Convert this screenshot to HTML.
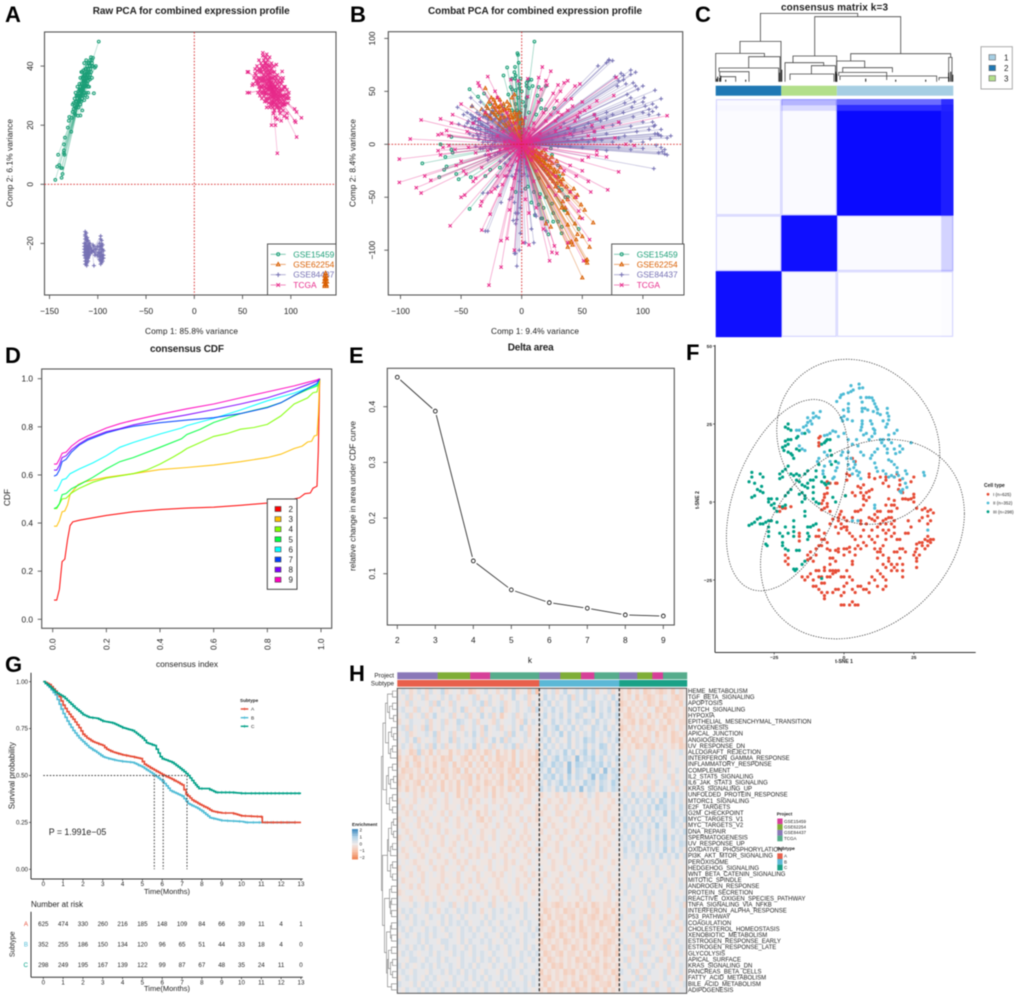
<!DOCTYPE html>
<html lang="en">
<head>
<meta charset="utf-8">
<title>Consensus clustering figure</title>
<style>
html,body{margin:0;padding:0;background:#fff;width:1020px;height:998px;overflow:hidden}
svg{display:block;filter:blur(.45px)}
text{font-family:"Liberation Sans",sans-serif;fill:#222}
.letter{font-size:22px;font-weight:bold;fill:#000}
.title{font-size:10px;font-weight:bold}
</style>
</head>
<body>
<svg id="fig" xmlns="http://www.w3.org/2000/svg" width="1020" height="998" viewBox="0 0 1020 998">
<rect width="1020" height="998" fill="#fff"/>
<text class="letter" x="5" y="22">A</text>
<text class="letter" x="350" y="22">B</text>
<text class="letter" x="695" y="22">C</text>
<text class="letter" x="5" y="363">D</text>
<text class="letter" x="349" y="363">E</text>
<text class="letter" x="686" y="360">F</text>
<text class="letter" x="5" y="672">G</text>
<text class="letter" x="349" y="681">H</text>

<text class="title" x="92.7" y="14" textLength="197">Raw PCA for combined expression profile</text>
<text class="title" x="428" y="14" textLength="214">Combat PCA for combined expression profile</text>
<text class="title" x="781" y="10.5" textLength="107">consensus matrix k=3</text>
<text class="title" x="150" y="352" textLength="74">consensus CDF</text>
<text class="title" x="507.7" y="350.5" textLength="46">Delta area</text>

<text x="145" y="334" font-size="8.3" textLength="93">Comp 1: 85.8% variance</text>
<text transform="translate(12.3,207) rotate(-90)" font-size="8.3" textLength="88">Comp 2: 6.1% variance</text>
<text x="491" y="334" font-size="8.3" textLength="88">Comp 1: 9.4% variance</text>
<text transform="translate(355.7,207) rotate(-90)" font-size="8.3" textLength="88">Comp 2: 8.4% variance</text>
<text x="156" y="667" font-size="8.3" textLength="62">consensus index</text>
<text transform="translate(10,506) rotate(-90)" font-size="8.3">CDF</text>
<text x="530" y="663" font-size="8.3" text-anchor="middle">k</text>
<text transform="translate(355.7,571) rotate(-90)" font-size="8.3" textLength="150">relative change in area under CDF curve</text>

<text x="844" y="663" font-size="5" font-weight="bold" text-anchor="middle">t-SNE 1</text>
<text transform="translate(699,500) rotate(-90)" font-size="5" font-weight="bold" text-anchor="middle">t-SNE 2</text>

<text transform="translate(14.3,775.7) rotate(-90)" font-size="8" text-anchor="middle">Survival probability</text>
<text x="167" y="894" font-size="7.5" text-anchor="middle">Time(Months)</text>
<text x="48.7" y="835" font-size="8.8">P = 1.991e−05</text>
<text x="31" y="907" font-size="8">Number at risk</text>
<text transform="translate(14.3,944.3) rotate(-90)" font-size="7" text-anchor="middle">Subtype</text>
<text x="167" y="991" font-size="7.5" text-anchor="middle">Time(Months)</text>

<text x="394" y="677.6" font-size="6.3" text-anchor="end">Project</text>
<text x="394" y="685.4" font-size="6.3" text-anchor="end">Subtype</text>
<text x="352" y="826" font-size="4.6" font-weight="bold">Enrichment</text>
<text x="776.7" y="815.5" font-size="4.6" font-weight="bold">Project</text>
<text x="776.7" y="850" font-size="4.6" font-weight="bold">Subtype</text>
<text x="984" y="487" font-size="5" font-weight="bold">Cell type</text>
<text x="240" y="702" font-size="4.6" font-weight="bold">Subtype</text>
</svg>

<script>
// ---------- PANEL A data (PC1, PC2 pairs) ----------
const pcaASeriesNames=["GSE15459","GSE62254","GSE84437","TCGA"];
const pcaAGse15459=[-144,1.5,-142,6,-141,10,-140,6.5,-138,5.5,-137,5.5,-137.5,2.2,-136.5,3.5,-135,10.5,-134.5,10,-135,11.5,-135,13.5,-134,15.8,-131,19.2,-127.5,17.8,-130,21.5,-129.5,22.8,-127,22.5,-126,24.5,-124,26.5,-123,23.5,-120.5,23.2,-118,23.3,-126,27,-125,25.5,-124,29,-123,28,-122,30,-121,27,-120,31.5,-119,29,-118,32,-117,28,-116,25,-115,33,-121,33,-119,34,-118,30,-117,34,-116,31,-116,36,-115,35,-114,28.5,-114,33,-113,30,-113,37,-112,33.5,-112,39,-111,29.5,-111,36,-110,31,-110,41,-109,38,-109,33,-108,35.5,-107.5,39,-107,43,-106,42,-106,36,-105,42.8,-104,30.8,-102,40,-103,39.5,-99,48.3,-114,41,-112,42,-110,37,-108,40,-118,36,-117,38,-115,38.5,-113,35,-111,34,-119,31,-121,29,-123,31,-120,28,-118,27,-122,28,-121,30,-120,30,-119,32,-118,33,-117,32,-116,33,-115,32,-114,31,-118,28.5,-117,30,-116,29,-115,30,-114,35,-113,33,-112,36,-111,38,-110,35,-109,36,-108,37,-107,38,-106,40,-105,40,-113,39,-111,40,-109,41,-108,42,-106,41,-112,31,-110,33,-120,26,-122,26,-124,24,-125,27.5,-123,26,-116,38,-114,37,-115,36.5,-112,37.5,-110,39];
const pcaAGse62254=[136,-30,135,-31,137,-31,135,-32,136,-32,137,-32,134.5,-33,136,-33,137.5,-33,135,-34,136,-34,137,-34,135,-34.5,137,-34.5];
const pcaAGse84437=[-113,-16,-112,-16.5,-113,-17.5,-111,-18,-113,-18.5,-112,-19,-110,-19,-114,-20,-112,-20,-110,-20.5,-113,-21,-111,-21,-109,-21,-114,-22,-112,-22,-110,-22.5,-113,-23,-111,-23,-109,-23,-114,-24,-112,-24,-110,-24.5,-113,-25,-111,-25,-112,-26,-110,-26,-113,-27,-111.5,-27.5,-107,-21.5,-105,-20.5,-104,-27.5,-103,-24,-106,-23,-97,-17.5,-96,-19,-98,-20,-95,-20.5,-97,-21,-96,-22,-98,-22,-94,-22.5,-96,-23,-98,-23.5,-95,-24,-97,-24.5,-94,-25,-96,-25.5,-98,-25.5,-95,-26,-97,-27,-113,-17,-112,-18,-111,-19,-113,-20,-112,-21,-110,-21.5,-113,-22,-111,-22,-112,-23,-110,-23.5,-113,-24,-111,-24,-112,-25,-110,-25,-114,-21,-114,-23,-112,-27,-113,-26,-111,-26.5,-109,-22,-109,-24,-97,-18.5,-96,-20,-98,-21,-95,-22,-97,-23,-96,-24,-98,-24.5,-95,-25,-97,-26,-96,-21,-94,-24,-96,-26.5,-100,-21,-102,-22,-104,-21,-100,-24,-108,-20,-99,-23];
const pcaATcga=[71,44.5,71,43.5,76,42,80,41,85,40.5,91,38.2,55,38,56,38,60,33.5,55,31,57,31,61,34,63,39,65,40,67,42,69,41,72,40,74,41,77,40,80,39,83,38,86,37,89,36,92,36,94,33,96,32,98,31,62,36,64,37,66,36,68,38,70,38,72,37,74,38,76,37,78,38,80,36,82,36,84,35,86,34,88,33,90,34,92,32,94,30,96,29,98,29,65,34,67,34,69,35,71,35,73,35,75,34,77,35,79,34,81,33,83,33,85,32,87,31,89,31,91,30,93,28,66,31,68,32,70,33,72,32,74,31,76,32,78,32,80,31,82,30,84,30,86,29,88,29,90,28,92,27,68,30,70,29,72,30,74,29,76,29,78,29,80,28,82,28,84,27,86,27,94,27,97,27.5,75,26,81,26,83,25,88,25,92,25,96,24,104,25.5,106,24.5,111,22.5,105,21,104,21.5,82,24,84,22.5,89,24,93,23,96,22.5,90,21.5,86,22,80,20,84,20,106,16,86,10.5,63,37.5,65,38.5,67,39,69,39,71,39.5,73,39,75,39.5,77,38.5,79,37.5,81,38,83,36.5,85,36,87,35,89,34.5,91,35,93,33,95,30.5,97,30,64,35,66,35,68,36,70,36,72,36,74,36.5,76,35.5,78,36,80,34.5,82,34,84,33,86,32.5,88,32,90,32,92,30,94,29,67,33,69,33,71,33.5,73,33,75,32.5,77,33,79,32.5,81,31.5,83,31.5,85,30.5,87,30,89,30,91,29,93,27,69,31,71,31,73,31,75,30.5,77,30.5,79,30,81,29.5,83,29,85,28.5,87,28,89,27.5,91,26.5,73,28,75,28,77,27.5,79,27,81,27,83,27.5,85,26,87,26,89,26,78,26,72,42,74,43,70,40,73,41,76,40.5,79,40,82,40,75,44,78,43];
const pcaAXTicks=[-150,-100,-50,0,50,100];
const pcaAYTicks=[-20,0,20,40];

// ---------- PANEL B data ----------
const pcaBGse15459=[10.5,97,-3.5,86,-3,84.5,-2.5,77,-5.5,73,-12,72.5,-6,68,-5,65,-15,65,-8,62,-5.5,62,-1,62,5,60,6,61,8,61,4,58,-2,57,20,55,14,54,9,55,4,55,-9,54,-43,52,-8,52,-5,51,-2,53,0,50,6,53,-11,47,-31,48,-36,45,13,46,-3,44,4,44,16,42,1,40,-5,38,-26,38,-15,36,3,36,20,33,27,34,16,34,-8,32,-4,32,-1,30,6,30,12,28,-20,28,-58,7,-67,0,-58,-5,-57,-8,-63,-12,-82,-18,-62,-21,-64,-24,-68,-31,-54,-28,-52,-33,-42,-31,-43,-61,-30,-30,-26,-24,-18,-22,24,-4,25,-10,20,-14,30,-20,18,-23,14,-32,31,-30,30,-41,33,-43,5,-40,10,-45,15,-47,20,-50,36,-50,38,-50,25,-56,14,-57,18,-60,35,-62,36,-62,26,-65,11,-67,17,-70,16,-70,21,-73,26,-73,30,-73,33,-78,47,-80,33,-84,22,-85,8,-55,3,-42,-5,-45];
const pcaBGse62254=[-30,53,-25,44,-20,44,-23,42,-27,40,-22,39,-18,42,-15,38,-12,40,-10,37,-24,35,-19,35,-29,36,-41,36,-6,47,-8,44,-14,33,-19,30,-24,30,-10,32,-6,30,-2,30,-30,30,-16,27,-11,26,-21,25,-26,24,-8,25,-14,20,-19,18,-4,22,0,24,-10,18,-16,14,-6,14,-2,16,16,-8,20,-10,25,-12,18,-15,25,-18,22,-20,29,-16,27,-24,32,-22,22,-28,30,-31,34,-33,26,-35,29,-37,32,-35,37,-40,40,-45,43,-42,44,-50,34,-54,38,-52,46,-48,49,-57,52,-62,59,-74,48,-69,44,-75,36,-60,33,-60,38,-65,38,-76,20,-75,24,-78,46,-85,50,-87,45,-90,41,-92,38,-97,39,-93,42,-95,56,-97,54,-109,53,-110,54,-112,50,-126,12,-6,14,-12,10,-8,18,-6,8,-14,-25,30,-22,32,-18,36,-16,32,-12,34,-9,28,-6,26,-4,28,-26,26,-22,28,-18,24,-14,25,-10,22,-7,20,-3,24,1,20,-13,17,-18,22,10,-6,14,-9,16,-12,20,-13,23,-15,15,-16,19,-18,24,-22,28,-26,12,-14,26,-28,20,-24,17,-20,34,-28,30,-26,24,-32,33,-38,28,-40,31,-44,-28,27,-30,28,-33,33,-21,36,-28,34];
const pcaBGse84437=[63,74,72,79,72,80,75,79,70,77,77,64,90,70,94,68,82,67,84,65,84,61,90,66,80,60,86,57,92,58,94,55,100,55,96,52,110,51,79,55,87,47,90,44,101,44,115,43,85,39,93,40,100,40,108,38,102,36,91,35,111,35,105,33,108,31,113,28,105,28,81,20,90,17,100,21,108,21,110,18,109,17,115,14,110,10,112,10,113,9,115,8,120,6,123,8,106,5,111,-1,115,-3,118,-5,116,-7,113,-8,118,-9,120,-10,109,-23,75,18,70,30,60,28,55,20,47,25,40,15,35,20,30,25,42,8,50,5,60,3,-53,35,-42,44,-34,40,-41,36,-37,30,-48,28,-41,24,-45,20,-52,19,-47,17,-40,15,-37,10,-35,5,-38,22,-30,26,-28,20,-30,14,-24,8,-25,-5,-28,-15,-18,-16,-14,-18,-32,-46,-28,-46,-30,-82,-28,-82,-20,-40,-17,-55,-10,-52,-8,-50,-6,-55,-5,-65,-3,-65,-1,-60,-1,-84,-4,-71,-5,-75,-7,-72,-2,-100,-5,-103,-6,-103,-4,-115,3,-93,10,-93,11,-66,12,-68,20,-82,8,-80,0,-45,-2,-35,5,-30,-35,28,-32,32,-26,28,-22,24,-28,12,-33,18,-20,16,-16,22,-12,14,-36,8,-30,4,-22,2,-26,-2,-18,8,-14,4,-32,-4,-20,-8,-12,-10,-8,-20,-4,-24,4,-22,0,-30,-36,16,-43,10,-24,32,-45,30,-42,28,-40,26,-38,25,-36,22,-34,20,-32,18,-30,16,-28,14,-26,12,-24,10,-22,8,-44,22,-40,20,-36,18,-34,14,-30,10,-27,8,-24,6,-20,6,-42,16,-38,14,-34,10,-30,6,-26,4,-22,4,-18,4,-40,8,-36,5,-32,2,-28,2,-24,0,-38,-2,-34,-4,-30,-2,-26,-4,-22,-3,-30,-10,-26,-12,-22,-10,-18,-8,-14,-12,-10,-14,-10,-25,-8,-30,-5,-28,-12,-30,-2,-25,2,-28,6,-24,-14,22,-18,20,-16,28,-12,24,-8,18,-24,22,-20,14,-28,24,-32,26,30,8,35,6,38,4,45,3,55,2,30,-2,40,-2,50,-3,25,4,22,10,28,14,36,10,44,14,52,16,60,12,70,10,80,6,90,3,100,2,70,-6,80,-3,90,-5,100,-4,66,4,75,2,85,8,95,12,105,14,92,26,100,30,84,30,75,28,70,24,65,22,58,16,50,12,43,12];
const pcaBTcga=[17,73,24,69,-28,64,-36,58,-35,55,-3,60,5,62,14,63,-9,61,20,60,21,56,30,56,35,58,38,60,44,55,48,57,26,48,32,50,29,41,41,43,36,42,14,40,-20,44,-22,50,-50,38,-57,28,-83,23,-67,24,-58,20,-62,13,-66,10,-60,8,-69,9,-92,5,-60,-1,-65,-3,-55,-5,-69,-6,-67,-10,-50,-16,-54,-20,-48,-25,-46,-28,-40,-35,-50,-50,-47,-48,-80,-30,-75,-34,-101,-14,-101,-36,-87,-41,-83,-46,-33,-54,-34,-58,-59,-77,-33,-81,-26,-66,-17,-91,-12,-89,-17,-116,-27,-133,-6,-100,1,-93,6,-95,23,-110,18,-80,29,-103,25,-102,27,-96,38,-93,51,-110,56,-90,50,-70,47,-63,40,-45,45,-50,50,-25,55,-35,57,-45,71,-43,80,-26,50,-15,55,-12,62,-6,62,-10,70,-12,93,-1,86,0,77,6,60,5,55,8,58,18,60,12,67,16,80,21,120,27,62,24,62,41,76,46,78,63,52,32,56,35,60,28,50,40,42,36,38,32,33,28,30,30,28,22,24,28,20,22,44,22,48,30,46,26,38,15,32,16,28,12,40,10,18,30,10,20,6,15,5,45,16,52,-12,-20,-14,-30,-20,-30,-16,-38,-22,-42,-25,-45,-18,-48,-6,-32,-8,-42,-10,-62,3,-52,6,-65,12,-60,15,-50,-40,20,-45,12,-35,24,-30,30,-25,16,-38,-8,-28,-6,-20,8,-15,12,-12,30,-38,-32,-33,-22,-27,-10,-44,-3,35,-25,40,-20,45,-30,28,-30,22,-40,28,-48,10,-35,12,-25,8,-15,-5,20,-8,10,-3,-10,5,-8,3,25,-10,15,15,10,20,-5,-18,-5,-10,-8,6,10,-6,8,9,-4,-4,-16,4,-18,-14,-4,14,4,10,14,-2,12,2,-12,5,3,-3,4,4,-4,-4,-3,8,2,-7,1,1,8,-1,-8,6,-6,-6,6,7,7,-7,-6,10,-2,-10,3,3,11,-3,-10,12,5,-12,-4,9,-9,-9,9,2,14,-2,-13,14,-3,-14,2];
const pcaBXTicks=[-100,-50,0,50,100];
const pcaBYTicks=[-100,-50,0,50,100];

// ---------- PANEL C data ----------
const consensusClusterSizes=[352,298,625];
const consensusClusterLabels=["2","3","1"];
const consensusRowSizes=[32,30,560,298,352];
const consensusColSizes=[352,298,560,65];
const consensusValues=[
 [.02,.3,.6,.85],
 [.03,.15,.85,.9],
 [.015,.02,1,.92],
 [.015,.98,.02,.18],
 [.98,.02,.005,.01]
];
// each merge: left sample, right sample, merge height, left child height, right child height
const dendroMerges=[
 [134,426,205,121,195],[297,555,195,77,84],[73,196,121,85,0],[0,146,85,0,75],[99,193,75,41,0],
 [10,189,41,30,0],[12,100,30,15,0],[15,60,15,6,0],[232,363,77,57,0],[208,324,57,0,48],[287,359,48,23,0],[223,355,23,5,0],
 [405,705,84,62,73],[363,447,62,0,42],[381,530,42,28,28],[369,513,28,17,5],[373,663,17,5,0],[699,709,73,0,0],[670,700,12,4,0]
];

// ---------- PANEL D data ----------
const cdfLabels=["2","3","4","5","6","7","8","9"];
const cdfX2=[.005,.015,.025,.035,.045,.055,.065,.075,.1,.2,.3,.4,.5,.6,.7,.8,.88,.92,.94,.96,.97,.985,.99,.995];
const cdfY2=[.08,.08,.125,.24,.25,.33,.39,.405,.412,.432,.447,.456,.462,.466,.474,.483,.495,.505,.522,.525,.545,.553,.7,1];
const cdfX3=[.005,.015,.025,.035,.045,.055,.065,.08,.095,.12,.2,.3,.4,.5,.6,.7,.8,.85,.9,.93,.95,.965,.975,.985,.99,.995];
const cdfY3=[.387,.387,.41,.447,.45,.475,.52,.54,.56,.572,.59,.605,.622,.631,.641,.655,.672,.686,.71,.72,.737,.74,.762,.765,.85,1];
const cdfX4=[.005,.015,.025,.035,.05,.07,.1,.15,.2,.3,.35,.4,.45,.48,.5,.55,.6,.65,.7,.75,.8,.85,.9,.95,.97,.985,.995];
const cdfY4=[.46,.46,.48,.5,.503,.525,.545,.57,.587,.605,.62,.645,.675,.695,.71,.735,.76,.772,.79,.797,.81,.845,.895,.92,.942,.945,1];
const cdfX5=[.005,.015,.025,.035,.05,.07,.1,.15,.2,.25,.3,.4,.48,.5,.55,.6,.7,.8,.85,.9,.95,.985,.995];
const cdfY5=[.46,.465,.48,.518,.523,.543,.56,.59,.625,.655,.672,.715,.75,.768,.79,.818,.855,.882,.9,.93,.955,.97,1];
const cdfX6=[.005,.015,.025,.035,.05,.065,.1,.15,.2,.25,.3,.4,.48,.5,.6,.7,.8,.9,.95,.985,.995];
const cdfY6=[.535,.535,.555,.58,.585,.605,.625,.65,.68,.715,.735,.77,.795,.805,.835,.87,.908,.94,.96,.975,1];
const cdfX7=[.005,.015,.025,.035,.05,.07,.1,.13,.2,.25,.3,.4,.5,.6,.7,.8,.85,.9,.95,.985,.995];
const cdfY7=[.595,.6,.62,.655,.665,.695,.725,.745,.775,.79,.802,.817,.828,.838,.855,.88,.9,.93,.96,.98,1];
const cdfX8=[.005,.015,.025,.035,.05,.07,.1,.13,.2,.25,.3,.4,.5,.6,.7,.8,.9,.95,.985,.995];
const cdfY8=[.62,.62,.64,.672,.68,.705,.73,.75,.78,.792,.808,.83,.85,.872,.895,.92,.955,.975,.99,1];
const cdfX9=[.005,.015,.025,.035,.05,.07,.1,.13,.2,.25,.3,.4,.5,.6,.7,.8,.9,.95,.985,.995];
const cdfY9=[.645,.645,.665,.69,.695,.72,.745,.762,.795,.813,.827,.852,.875,.895,.92,.945,.97,.985,.995,1];
const cdfXTicks=["0.0","0.2","0.4","0.6","0.8","1.0"];
const cdfYTicks=["0.0","0.2","0.4","0.6","0.8","1.0"];

// ---------- PANEL E data ----------
const deltaK=[2,3,4,5,6,7,8,9];
const deltaArea=[.453,.392,.123,.071,.048,.038,.026,.024];
const deltaYTicks=["0.1","0.2","0.3","0.4"];

// ---------- PANEL F data ----------
const tsneI=[-1,-33,0,-33,2,-33,3,-32,4,-33,5,-33,-7,-30,-8,-29,-7,-31,-6,-29,-4,-29,-3,-28,-2,-28,-1,-30,0,-29,0,-27,1,-26,2,-24,3,-25,3,-28,4,-29,5,-27,6,-27,7,-28,8,-28,9,-29,9,-26,10,-24,11,-25,12,-22,13,-23,14,-24,15,-25,15,-27,14,-28,17,-22,17,-20,16,-18,18,-21,19,-22,21,-22,21,-24,12,-27,-11,-27,-10,-27,-9,-28,-8,-24,-7,-22,-7,-26,-6,-24,-5,-22,-4,-23,-3,-22,-2,-22,-1,-24,0,-24,1,-22,-9,20.5,-8.5,21,-9,19,-9,18,3,14,4,13,1,9,2,8.5,1,7,-5,6,-6,6.5,-6,4.5,-3,6,-2.5,6,.5,2,3,3,4,2,5,5,6,4.5,6,3,7,2,7,5.5,7,1,8,3,9,3.5,10,4,9,1.5,8,.5,7,-1,9,8,9,9,11,7.5,13,8,15,8,14,6,15,7,16,5,18,8,19,9,20,7,20,5.5,19.5,4,21,3,24,6.5,25,8,21,1,22,1,23,.8,24,1,25,1.5,25,2.5,18,.5,17,-1,-7,2.5,-6,2.8,-7,1.5,-7.5,.5,-8,-.5,-6,-.5,-6,-1.5,-7,-2,-8,-2.5,-5,-3,-4,-5.5,-5,-7,-23,-1.5,-22,-2,-21,-2,-23,-3,-19,-1.5,-1,-3,-1.5,-4,-2,-5,-2,-6,-1,-7,0,-5,1,-6,0,-8,-1,-8.5,1,-8,1,-9,-3,-8,-2,-10,3,-5,4,-3,5,-3,6,-2.5,6,-6,6,-7,7,-9,6,-11,4,-12,3,-11,2,-10,8,-7,9,-5,10,-5.5,11,-4,12,-3,13,-3,11,-6,12,-5,14,-6,15,-5.5,15,-7,13,-7,12,-8,14,-9,10,-9,9,-11,10,-12,11,-13,12,-11,15,-10,16,-9,17,-7,18,-8,18,-6,16,-3,17,-3,17,-5,16,-5,15,-1,16,1,18,-1,19,-2,18,-10,17,-11,19,-12,20,-12,22,-10,23,-6,24,-8,23,-10,27,-6,28,-5,30,-3,31,-2.5,30,-4.5,31,-6,30,-7,32,-3.5,29,-2,28,-2.5,26,-2,25,0,30,-11,31,-12,30,-12.5,32,-12,31,-13,30,-14,29,-12,28,-13,27,-13,26,-13.5,26,-15,25.5,-16,28,-14,29,-15,27,-17,26,-18,26,-19,26,-21,25,-17,-16,-10,-16,-11,-16,-12.5,-21,-17,-20,-18,-21,-19,-20,-20,-12,-16,-13,-17,-12,-18,-13,-18.5,-11,-19,-10,-17,-10,-15,-9,-14,-8,-14,-10,-11,-9,-11,-8,-12,-7,-12,-6,-13,-7,-10,-9,-9,-6,-15,-5,-15.5,-3,-15.5,-2,-15,0,-15,1,-15,2,-14.5,2,-16,4,-15,4,-17,5,-14,6,-15,8,-14,7,-13,11,-15,12,-16,13,-16,13,-15,12,-18,14,-17,14,-14,15,-12,18,-16,19,-16,20,-15,21,-15,22,-16,21,-20,20,-18,19,-20,17,-20,16,-19,14,-20,15,-21,-5,-18,-4,-18,-3,-19,-5,-20,-2,-16,0,-17,3,-19,3,-20,-4,-22,-3,-22.5,-9,-22,-10,-22,-9,-24,-8,-26,-7,-21,-5,-24,-11,-25,-12,-23,-13,-24,-14,-25,-15,-24];
const tsneII=[5.4,37.8,3.3,35.9,2.5,35.4,1.5,35,-.2,34.6,-1,34.3,-1.4,33.5,-2.6,32.2,2.5,37.3,6.7,36.6,5.5,36.5,6,33.5,8,33.5,9,33.5,10,33.4,10.5,32.5,11,31.5,11.5,30.5,12,29.7,6.5,32,6.5,30,1.6,31.5,1.5,30,1.6,29,-.2,29.5,6.5,29,7.5,30,8.5,29.5,10.5,29,12,28.5,15.5,30,15.5,28.5,16,27.5,16,26.3,15.5,25,15,24,14,26,13,28,9.5,26,10,25,10.5,23.5,11,23,6.5,26,6.5,25,6.3,24,6,23,-1,27,-.5,26,0,27.5,1.2,26.5,3,26,16,20,14,20,17,19,19,23,18,22,16,21.5,10,21,8,22,9,20,7,21.5,11,22,13,20,13.5,19,14.5,18,12,17,11,16,10,15,9.5,14,4.5,20,5,18,3,18.5,1.5,20,0,22,6,16,7,15,20,18,21,17,20,16,18.5,15.5,18,17,15.5,17,15.5,15.7,16,13.5,17,13,18,12,19,11,19,9.5,22,10,22.5,9,19.5,8.5,21,7.5,22,6,22.5,4.7,21,4,20,3.5,20.5,3,12,9.8,11.5,11,11,12.5,14,10,15,9,16,8,17,8.5,18,8,28.5,9.5,28.8,8.5,24,19,4,12,3.5,13,2.5,14,1.5,12,2,10.5,3.5,11,4.5,10,5,8.5,5.5,9.5,3,9,6,7.5,-.5,16,1.5,16,1,14,-1,15,-2,12.5,-2.5,11,-3,10,-5,13,-6,15,-7,16,-9,14,-9.5,13,-7,11.5,-7.5,10,-7.5,9,-7,8,-3.5,8,-4,7.5,-14,16.5,-15,17,-16,18,-12,26,-11,28.5,-11,27,-11.5,25,-13,25.5,-13,27,-13.5,24.5,-14.5,24,-13,23,-12.5,22.5,-15,22,-16,23,-17,23,-8.5,29,-9,27,-10,27.5,-2,21,-3,22.5,-4,22.8,-5,22,-6,21.5,-7,21.3,30,-9,11,-1,11,-2,5,-6,3,-6];
const tsneIII=[-20,25,-21,24,-20,23.5,-19,23,-20,20,-21,19.5,-19,20,-20,18.5,-21,18,-22,17.5,-21.5,16.5,-20,16,-19,15.5,-18.5,15,-18,14,-17,17,-16,16.5,-16.5,21,-17,20.5,-14,22,-20,11.5,-21,10.5,-22,9.8,-23,9,-22,8,-23,7.5,-19,9,-17,9,-18,8.5,-16,8.5,-17,7,-16,6.5,-15,5.5,-15,3,-16,2.5,-14,9,-13,10,-12,7,-13,6,-14,5,-13,4.5,-11,4.8,-11,7,-10,10,-9,12,-10,8,-11,3,-7,8,-8,6.5,-7,6,-6.5,5.5,-5.5,6,-33,9.5,-33,8,-34,6.5,-32,6,-30,9,-29,8,-29.5,5,-31,4,-30,3.5,-29,3,-32,2,-33,1.5,-27,1,-26,1,-27,0,-26,-1,-25,-.5,-24,1,-25,-2,-24,-3,-22,-1.5,-21,-1,-30,-5,-31,-5.5,-32,-6.5,-33,-7,-34,-7.5,-30,-7,-29,-7,-28,-6.5,-27,-6,-26,-6,-27,-8,-27,-9.5,-27,-11,-28,-13.5,-27.5,-14,-24,-6.5,-21,-8,-23,-10,-22,-11,-20,-10,-18,-8,-18,-6,-18,-9.5,-18,-11,-22,-13,-22,-14,-21,-15,-20,-15.5,-17,-15.5,-16,-15.5,-14,-3,-14,-4.5,-13,-8,-12,-8,-13,-10,-12.5,-11,-13,-12,-11,-7.5,-14,-19,-15,-20,-17,-21.5,-17.5,-22,-18,-21.5,-8,-24.5,-10,-7,-14,1,-15,0,-14,2,-11,1,-10,0,-9,-.5,-3,0,-4,1.5,.5,2,-20,3,-21,2,-19,4,-5,20,-6,20,-6.5,19.5,-7,19,-8,18.5,-3,13,-4.5,12,-4.5,15,-5,16.5];
const tsneEllipseI=[6.6,-11.9,36.5,8.2,30.9];
const tsneEllipseII=[5.1,19.3,29.2,-3.7,26.2];
const tsneEllipseIII=[-20.3,2.2,21.8,13.4,27.6];
const tsneTicksX=[-25,0,25];
const tsneTicksY=[-25,0,25,50];
const tsneLegend=["I (n=625)","II (n=352)","III (n=298)"];

// ---------- PANEL G data ----------
const kmTimesA=[0,.3,.6,.8,1,1.2,1.5,1.8,2,2.2,2.5,3,3.2,3.5,4,4.5,4.9,5.1,5.5,6,6.5,7,7.2,7.5,7.9,8.2,8.5,9,9.5,10,11.04,11.05,13];
const kmSurvA=[1,.985,.95,.92,.875,.84,.8,.755,.72,.7,.68,.66,.64,.625,.61,.6,.59,.56,.535,.505,.48,.45,.4,.37,.345,.33,.31,.3,.3,.285,.28,.25,.25];
const kmTimesB=[0,.3,.6,.8,1,1.2,1.5,1.8,2,2.3,2.6,3,3.3,3.7,4,4.5,5,5.5,6,6.4,7,7.3,7.7,8,8.4,9,10,10.2,12.7];
const kmSurvB=[1,.97,.93,.88,.83,.79,.74,.7,.68,.65,.63,.6,.59,.58,.575,.57,.545,.51,.47,.42,.39,.35,.33,.31,.275,.26,.255,.25,.25];
const kmTimesC=[0,.3,.6,1,1.3,1.6,2,2.3,2.7,3,3.5,4,4.5,5,5.2,5.6,5.8,5.9,6,6.5,7,7.3,7.6,7.85,8.3,8.7,9.5,10,13];
const kmSurvC=[1,.975,.945,.92,.89,.86,.825,.81,.805,.79,.78,.755,.74,.7,.675,.66,.62,.6,.59,.57,.53,.5,.46,.43,.43,.41,.41,.405,.405];
const kmCensorA=[.5,1,1.4,2,2.4,2.8,3.1,3.4,3.8,4.2,4.6,5,5.4,5.7,6.2,6.6,7.1,7.6,8.1,8.8,9.2,9.6,10,10.2,10.5,10.8,11,11.3,11.6,12,12.3,12.7];
const kmCensorB=[.5,.9,1.3,1.7,2.1,2.5,2.9,3.3,3.6,4,4.4,4.8,5.2,5.6,6,6.5,7,7.5,8,8.6,9,9.3,9.6,9.9,10.3,10.6,10.9,11.2,11.5,11.8,12.1,12.4,12.7];
const kmCensorC=[.6,1,1.5,2,2.5,3,3.5,4,4.5,5,5.5,6,6.5,7,8,8.4,8.8,9,9.2,9.4,9.6,10,10.2,10.5,10.7,10.9,11.1,11.3,11.5,11.7,11.9,12.1,12.3,12.5,12.7,12.9];
const kmMedians=[5.6,6.05,7.25];
const kmMonths=[0,1,2,3,4,5,6,7,8,9,10,11,12,13];
const kmYTicks=["0.00","0.25","0.50","0.75","1.00"];
const riskA=[625,474,330,260,216,185,148,109,84,66,39,11,4,1];
const riskB=[352,255,186,150,134,120,96,65,51,44,33,18,4,0];
const riskC=[298,249,195,167,139,122,99,87,67,48,35,24,11,0];

// ---------- PANEL H data ----------
const heatmapSubtypes=["A","B","C"];
const heatmapSubtypeSizes=[142,80,67.7];
const heatmapProjectA=[121,97,60,147];
const heatmapProjectB=[63,62,40,75];
const heatmapProjectC=[54,45,32,72];
const heatmapProjects=["GSE84437","GSE62254","GSE15459","TCGA"];
const pathways=["HEME_METABOLISM","TGF_BETA_SIGNALING","APOPTOSIS","NOTCH_SIGNALING","HYPOXIA","EPITHELIAL_MESENCHYMAL_TRANSITION","MYOGENESIS","APICAL_JUNCTION","ANGIOGENESIS","UV_RESPONSE_DN","ALLOGRAFT_REJECTION","INTERFERON_GAMMA_RESPONSE","INFLAMMATORY_RESPONSE","COMPLEMENT","IL2_STAT5_SIGNALING","IL6_JAK_STAT3_SIGNALING","KRAS_SIGNALING_UP","UNFOLDED_PROTEIN_RESPONSE","MTORC1_SIGNALING","E2F_TARGETS","G2M_CHECKPOINT","MYC_TARGETS_V1","MYC_TARGETS_V2","DNA_REPAIR","SPERMATOGENESIS","UV_RESPONSE_UP","OXIDATIVE_PHOSPHORYLATION","PI3K_AKT_MTOR_SIGNALING","PEROXISOME","HEDGEHOG_SIGNALING","WNT_BETA_CATENIN_SIGNALING","MITOTIC_SPINDLE","ANDROGEN_RESPONSE","PROTEIN_SECRETION","REACTIVE_OXIGEN_SPECIES_PATHWAY","TNFA_SIGNALING_VIA_NFKB","INTERFERON_ALPHA_RESPONSE","P53_PATHWAY","COAGULATION","CHOLESTEROL_HOMEOSTASIS","XENOBIOTIC_METABOLISM","ESTROGEN_RESPONSE_EARLY","ESTROGEN_RESPONSE_LATE","GLYCOLYSIS","APICAL_SURFACE","KRAS_SIGNALING_DN","PANCREAS_BETA_CELLS","FATTY_ACID_METABOLISM","BILE_ACID_METABOLISM","ADIPOGENESIS"];
// enrichment per pathway, digits 0 (-2) .. 9 (+2); groups are subtypes A, B, C
const heatDigits=[
"465346536457345465234564535647345261 56463574564756354635 34243523432342534",
"546354635546465354563546453547456345 47564657365746556475 34352432343543234",
"453645546374536455465736456345645364 65746547564567465647 23434352342343425",
"564536453546546473546354657345645637 46575647546758465746 34243434523423343",
"456354635745463546354746352456346545 57465746576456475657 43234352434234343",
"354655463546354765463554364556437465 65475657465764756546 34324234353423433",
"563645373546454635465374563546475354 47568465746547657465 23435342343243534",
"456345564735463546475364554637456354 57465847564657465756 34243343524342343",
"546473545635473645564635747365546453 65746547465867564657 43423423534342324",
"465356463746354656473546354657364546 47564657465746587465 34342343243543423",
"354237342534424353243423524342534342 64756585746857467565 45345453645354564",
"243423534342325432434253423342534332 57468576495768574657 54635463546354545",
"342532434243352434253424332432524343 76586749587657685746 46354563545364554",
"423343524342343252434342533423243434 65847659476586749576 35464553645354645",
"334243342534243433252434342432534243 57685748576469587467 54635436455463545",
"243432534342434253243423432534234335 64756857465867476586 45354645364553646",
"342434243352434243532434243423524343 75647586749576486576 53645436354645354",
"454534353445354243534435243454354345 34543453543465344354 56475647565847565",
"345435445354354435243545344354453354 45344353454354345435 65647565748657564",
"534354453454344534354435453534434543 43543534543445354344 47565647586756475",
"443535344543535443542435345434354453 34453345434535443544 56574657465847565",
"354453435445354354453243545344535343 54344534354434543534 65647564756547657",
"434543543534454345354434535434453544 43534454345354344354 47565746585647564",
"543454354435345443545344354453543454 35443534453444354535 56475657465745657",
"345354434543544353454345354434534354 44354345434535443445 65746556475847565",
"454434535443543544354534454354343545 53443544353445344354 56574657564756476",
"534543445354434535443435453443544353 34543535444354353445 47565647565847564",
"443554354434543545343545344354453545 45344534543544353544 46557465647565746",
"545434453544354343545443545343544354 44534435445353444534 54546454655464545",
"354453445343544535434453544345434545 54434543544344535445 45464555464546454",
"445354354543445354453544343545443534 43544354453543454354 54554645465546454",
"534445354443544354353445434545344354 35443545344453545344 45645546454655464",
"454353454435345434545354434454353544 44534344535444354435 54655464546454565",
"345544354534454345344535443454354534 53443545434534445353 46455464655464545",
"544354434543545443543445354345434545 43544354443535444354 55464546455464656",
"555465465645563546465546355465546455 33432343424342343343 54645546355464563",
"465654564535654656465354656455646545 42343423343243243424 45365454645535465",
"546465546556465464555464655465546554 34243343243432342343 64555463546455365",
"655465645546465656455646546555464655 23434234342433423342 45464636455463546",
"564655465654655465646554654656455646 34324343242343434324 54635546454654635",
"456546564655465465565465546465546565 43234234343243243433 45546355464546455",
"645556465546655464655656454655646554 24343423434342343234 64554636455364655",
"556465646554656546465546565465546465 33423434234243432343 46364554654635465",
"465654556465546565465654655465465656 42343243343424342342 55464636545465364",
"554665465564655465564656465546565465 34234343423343243434 46354655463546455",
"646545656465565465646554654656546555 43423243434234342343 54655364645536465",
"565465546556465646565465546565465546 24343423243432343423 65463546554635464",
"456565465645546556465646556465546565 33243434342343234342 45546364554654635",
"655464656554656465546565465646556465 42434234234243433243 56364554635465546",
"546556465646554656565465546465656545 34234343423342342434 46554635465536455"
];

// ---------- helpers ----------
const SVGNS="http://www.w3.org/2000/svg";
const fig=document.getElementById("fig");
function add(parent,tag,attrs,name){
  const el=document.createElementNS(SVGNS,tag);
  for(const k in attrs)el.setAttribute(k,attrs[k]);
  
  
  parent.appendChild(el);
  return el;
}
function group(name){return add(fig,"g",{},name);}
function txt(parent,x,y,s,size,name,extra){
  const t=add(parent,"text",Object.assign({x:x,y:y,"font-size":size},extra||{}),name);
  t.textContent=s;
  return t;
}
function rtxt(parent,x,y,s,size,name,anchor){
  const t=add(parent,"text",{transform:"translate("+x+","+y+") rotate(-90)","font-size":size,"text-anchor":anchor||"middle"},name);
  t.textContent=s;
  return t;
}
function box(parent,x0,y0,x1,y1,name){
  add(parent,"rect",{x:x0,y:y0,width:x1-x0,height:y1-y0,fill:"none",stroke:"#555","stroke-width":1.1},name);
}
function pairs(a){const o=[];for(let i=0;i<a.length;i+=2)o.push([a[i],a[i+1]]);return o;}
function fmtMinus(v){return String(v).replace("-","−");}
function symbol(parent,kind,x,y,color,name,sz){
  const s=sz||1.8;
  if(kind==="circle"){add(parent,"circle",{cx:x,cy:y,r:s*.85,fill:"none",stroke:color,"stroke-width":1},name);}
  else if(kind==="triangle"){add(parent,"path",{d:"M"+x+" "+(y-s*1.1)+"L"+(x+s)+" "+(y+s*.75)+"L"+(x-s)+" "+(y+s*.75)+"Z",fill:"none",stroke:color,"stroke-width":1},name);}
  else if(kind==="plus"){add(parent,"path",{d:"M"+(x-s*1.25)+" "+y+"H"+(x+s*1.25)+"M"+x+" "+(y-s*1.25)+"V"+(y+s*1.25),fill:"none",stroke:color,"stroke-width":1},name);}
  else{add(parent,"path",{d:"M"+(x-s)+" "+(y-s)+"L"+(x+s)+" "+(y+s)+"M"+(x+s)+" "+(y-s)+"L"+(x-s)+" "+(y+s),fill:"none",stroke:color,"stroke-width":1},name);}
}
const dark2=["#1b9e77","#d95f02","#7570b3","#e7298a"];
const pcaKinds=["circle","triangle","plus","x"];

function pcaAxes(g,xs,ys,xt,yt,L,R,T,B,yLabelX){
  box(g,L,T,R,B,"plot-frame");
  xt.forEach(v=>{
    const x=xs(v);
    add(g,"line",{x1:x,x2:x,y1:B,y2:B+4,stroke:"#555","stroke-width":.9},"x-axis-tick");
    txt(g,x,314,fmtMinus(v),8.3,"x-axis-tick-label",{"text-anchor":"middle"});
  });
  yt.forEach(v=>{
    const y=ys(v);
    add(g,"line",{x1:L-4,x2:L,y1:y,y2:y,stroke:"#555","stroke-width":.9},"y-axis-tick");
    rtxt(g,yLabelX,y,fmtMinus(v),8.3,"y-axis-tick-label");
  });
  add(g,"line",{x1:xs(0),x2:xs(0),y1:T,y2:B,stroke:"#d62728","stroke-width":.9,"stroke-dasharray":"1.6 1.6"},"zero-line-vertical");
  add(g,"line",{x1:L,x2:R,y1:ys(0),y2:ys(0),stroke:"#d62728","stroke-width":.9,"stroke-dasharray":"1.6 1.6"},"zero-line-horizontal");
}
function pcaLegend(g,x0,x1,lx0,lx1,tx){
  add(g,"rect",{x:x0,y:244,width:x1-x0,height:51,fill:"#fff",stroke:"#555","stroke-width":1},"legend-box");
  const ly=[254.3,264.4,274.7,285];
  pcaASeriesNames.forEach((n,i)=>{
    add(g,"line",{x1:lx0,x2:lx1,y1:ly[i],y2:ly[i],stroke:dark2[i],"stroke-opacity":.55,"stroke-width":1},"legend-line");
    symbol(g,pcaKinds[i],(lx0+lx1)/2,ly[i],dark2[i],"legend-symbol");
    txt(g,tx,ly[i]+3,n,8.4,"legend-label",{style:"fill:"+dark2[i]});
  });
}
function drawStar(g,pts,xs,ys,cx,cy,color,kind,name,op){
  pts.forEach(p=>{
    add(g,"line",{x1:cx,y1:cy,x2:xs(p[0]),y2:ys(p[1]),stroke:color,"stroke-opacity":op,"stroke-width":.8},name+"-spoke");
  });
  pts.forEach(p=>{symbol(g,kind,xs(p[0]),ys(p[1]),color,name+"-point",1.6);});
}

// ---------- PANEL A ----------
(function(){
  const g=group("panel-a-raw-pca");
  const xs=v=>194.3+v*.9653, ys=v=>184.3-v*2.955;
  pcaAxes(g,xs,ys,pcaAXTicks,pcaAYTicks,44.5,336,32,295,33);
  const order=[pcaAGse15459,pcaAGse84437,pcaATcga];
  const idx=[0,2,3];
  order.forEach((arr,i)=>{
    const pts=pairs(arr);
    const mx=pts.reduce((s,p)=>s+p[0],0)/pts.length, my=pts.reduce((s,p)=>s+p[1],0)/pts.length;
    drawStar(g,pts,xs,ys,xs(mx),ys(my),dark2[idx[i]],pcaKinds[idx[i]],"raw-"+pcaASeriesNames[idx[i]].toLowerCase(),.32);
  });
  pcaLegend(g,267.5,336,270.7,285.7,293.3);
  const o=pairs(pcaAGse62254);
  const omx=o.reduce((s,p)=>s+p[0],0)/o.length, omy=o.reduce((s,p)=>s+p[1],0)/o.length;
  drawStar(g,o,xs,ys,xs(omx),ys(omy),dark2[1],"triangle","raw-gse62254",.4);
})();

// ---------- PANEL B ----------
(function(){
  const g=group("panel-b-combat-pca");
  const xs=v=>521.7+v*1.212, ys=v=>144.3-v*1.059;
  const clip=add(fig,"clipPath",{id:"clipB"},"panel-b-clip");
  add(clip,"rect",{x:388,y:32,width:295,height:263},"panel-b-clip-rect");
  const inner=add(g,"g",{"clip-path":"url(#clipB)"},"panel-b-marks");
  pcaAxes(g,xs,ys,pcaBXTicks,pcaBYTicks,388.3,682.7,31.7,295,375);
  const data=[pcaBGse15459,pcaBGse62254,pcaBGse84437,pcaBTcga];
  data.forEach((arr,i)=>{
    drawStar(inner,pairs(arr),xs,ys,xs(0),ys(0),dark2[i],pcaKinds[i],"combat-"+pcaASeriesNames[i].toLowerCase(),.42);
  });
  pcaLegend(g,611.7,684,614,629.3,636.7);
})();

// ---------- PANEL C ----------
(function(){
  const g=group("panel-c-consensus-matrix");
  const X0=715.7,W=237.6;
  const totalC=consensusClusterSizes.reduce((a,b)=>a+b,0);
  const sx=v=>X0+v/totalC*W;
  const annoCols=["#1f78b4","#b2df8a","#a6cee3"];
  let acc=0;
  consensusClusterSizes.forEach((n,i)=>{
    add(g,"rect",{x:sx(acc),y:85.7,width:n/totalC*W,height:10,fill:annoCols[i]},"cluster-bar-"+consensusClusterLabels[i]);
    acc+=n;
  });
  // matrix
  const rowTotal=consensusRowSizes.reduce((a,b)=>a+b,0), Y0=99,H=238;
  let cy=0;
  consensusRowSizes.forEach((rn,r)=>{
    let cx=0;
    const totalCol=consensusColSizes.reduce((a,b)=>a+b,0);
    consensusColSizes.forEach((cn,c)=>{
      add(g,"rect",{x:X0+cx/totalCol*W,y:Y0+cy/rowTotal*H,width:cn/totalCol*W+.2,height:rn/rowTotal*H+.2,fill:"#0a0aff","fill-opacity":consensusValues[r][c]},"consensus-cell");
      cx+=cn;
    });
    cy+=rn;
  });
  // cluster boundaries
  const r1=Y0+(622/rowTotal)*H, r2=Y0+(920/rowTotal)*H;
  const c1=sx(352), c2=sx(650), c3=X0+W;
  [[X0,Y0,c1,r1],[c1,Y0,c2,r1],[c2,r1,c3,r2],[c2,r2,c3,Y0+H],[c1,r2,c2,Y0+H],[X0,r1,c1,r2]].forEach(b=>{
    add(g,"rect",{x:b[0]+.7,y:b[1]+.7,width:b[2]-b[0]-1.4,height:b[3]-b[1]-1.4,fill:"none",stroke:"#0a0aff","stroke-opacity":.16,"stroke-width":1.1},"cluster-boundary");
  });
  // dendrogram
  const dx=v=>X0+v/3, dy=v=>81.7-v/3;
  dendroMerges.forEach(m=>{
    add(g,"path",{d:"M"+dx(m[0]).toFixed(1)+" "+dy(m[3]).toFixed(1)+"V"+dy(m[2]).toFixed(1)+"H"+dx(m[1]).toFixed(1)+"V"+dy(m[4]).toFixed(1),fill:"none",stroke:"#444","stroke-width":.8},"dendrogram-branch");
  });
  [[1,3],[2,5],[4,4],[5,6],[64,9],[66,12],[120,10],[121,8],[233,9],[235,10],[237,7],[10,2],[30,2],[150,3],[180,2],[210,2]].forEach(v=>{
    add(g,"line",{x1:X0+v[0],x2:X0+v[0],y1:81.7,y2:81.7-v[1],stroke:"#111","stroke-width":1},"dendrogram-leaf");
  });
  // legend
  add(g,"rect",{x:981,y:46.7,width:31.3,height:42.3,fill:"#fff",stroke:"#aaa","stroke-width":1},"cluster-legend-box");
  const lc=[["1","#a6cee3",57.3],["2","#1f78b4",68],["3","#b2df8a",78.3]];
  lc.forEach(l=>{
    add(g,"rect",{x:989,y:l[2]-2.7,width:6.5,height:5.4,fill:l[1],stroke:"#666","stroke-width":.6},"cluster-legend-swatch");
    txt(g,1004,l[2]+3,l[0],8,"cluster-legend-label");
  });
})();

// ---------- PANEL D ----------
(function(){
  const g=group("panel-d-consensus-cdf");
  const xs=v=>52.7+v*268.3, ys=v=>619.3-v*240.6;
  box(g,41.7,369,331.7,628.3,"plot-frame");
  cdfXTicks.forEach(t=>{
    const x=xs(parseFloat(t));
    add(g,"line",{x1:x,x2:x,y1:628.3,y2:632.3,stroke:"#555","stroke-width":.9},"x-axis-tick");
    rtxt(g,x+3,650,t,8.3,"x-axis-tick-label","start");
  });
  cdfYTicks.forEach(t=>{
    const y=ys(parseFloat(t));
    add(g,"line",{x1:37.7,x2:41.7,y1:y,y2:y,stroke:"#555","stroke-width":.9},"y-axis-tick");
    txt(g,33,y+3,t,8.3,"y-axis-tick-label",{"text-anchor":"end"});
  });
  const cols=["#ff0000","#ffbf00","#80ff00","#00ff40","#00ffff","#0040ff","#8000ff","#ff00bf"];
  const xsAll=[cdfX2,cdfX3,cdfX4,cdfX5,cdfX6,cdfX7,cdfX8,cdfX9];
  const ysAll=[cdfY2,cdfY3,cdfY4,cdfY5,cdfY6,cdfY7,cdfY8,cdfY9];
  cols.forEach((c,i)=>{
    const d=xsAll[i].map((v,j)=>(j?"L":"M")+xs(v).toFixed(1)+" "+ys(ysAll[i][j]).toFixed(1)).join("");
    add(g,"path",{d:d,fill:"none",stroke:c,"stroke-width":1.1,"stroke-opacity":.9},"cdf-curve-k"+cdfLabels[i]);
  });
  add(g,"rect",{x:267.3,y:499,width:29.7,height:90.3,fill:"#fff",stroke:"#444","stroke-width":1},"cdf-legend-box");
  cdfLabels.forEach((l,i)=>{
    const y=509+i*10.1;
    add(g,"rect",{x:275,y:y-2.5,width:6,height:5,fill:cols[i],stroke:"#444","stroke-width":.6},"cdf-legend-swatch");
    txt(g,288.5,y+3,l,8,"cdf-legend-label");
  });
})();

// ---------- PANEL E ----------
(function(){
  const g=group("panel-e-delta-area");
  const xs=v=>397.3+(v-2)*38, ys=v=>406.7+(.4-v)*556.7;
  box(g,387.3,368.3,674.3,625,"plot-frame");
  deltaK.forEach(k=>{
    const x=xs(k);
    add(g,"line",{x1:x,x2:x,y1:625,y2:629,stroke:"#555","stroke-width":.9},"x-axis-tick");
    txt(g,x,643,String(k),8.3,"x-axis-tick-label",{"text-anchor":"middle"});
  });
  deltaYTicks.forEach(t=>{
    const y=ys(parseFloat(t));
    add(g,"line",{x1:383.3,x2:387.3,y1:y,y2:y,stroke:"#555","stroke-width":.9},"y-axis-tick");
    rtxt(g,375,y,t,8.3,"y-axis-tick-label");
  });
  deltaArea.forEach((v,i)=>{
    if(i<deltaArea.length-1){
      const x0=xs(deltaK[i]),y0=ys(v),x1=xs(deltaK[i+1]),y1=ys(deltaArea[i+1]);
      const L=Math.hypot(x1-x0,y1-y0),ux=(x1-x0)/L,uy=(y1-y0)/L,gap=4;
      add(g,"line",{x1:x0+ux*gap,y1:y0+uy*gap,x2:x1-ux*gap,y2:y1-uy*gap,stroke:"#333","stroke-width":.9},"delta-line-segment");
    }
    add(g,"circle",{cx:xs(deltaK[i]),cy:ys(v),r:1.9,fill:"#fff",stroke:"#222","stroke-width":.9},"delta-point-k"+deltaK[i]);
  });
})();

// ---------- PANEL F ----------
(function(){
  const g=group("panel-f-tsne");
  const xs=v=>844+v*2.793, ys=v=>502-v*3.12;
  add(g,"line",{x1:715,x2:715,y1:345,y2:652.5,stroke:"#333","stroke-width":1},"y-axis-line");
  add(g,"line",{x1:715,x2:975.7,y1:652.5,y2:652.5,stroke:"#333","stroke-width":1},"x-axis-line");
  tsneTicksX.forEach(t=>{
    add(g,"line",{x1:xs(t),x2:xs(t),y1:652.5,y2:654.5,stroke:"#333","stroke-width":.7},"x-axis-tick");
    txt(g,xs(t),659,fmtMinus(t),4.8,"x-axis-tick-label",{"text-anchor":"middle","font-weight":"bold"});
  });
  tsneTicksY.forEach(t=>{
    add(g,"line",{x1:713,x2:715,y1:ys(t),y2:ys(t),stroke:"#333","stroke-width":.7},"y-axis-tick");
    txt(g,712,ys(t)+1.8,fmtMinus(t),4.8,"y-axis-tick-label",{"text-anchor":"end","font-weight":"bold"});
  });
  const sets=[[tsneI,"#e64b35"],[tsneII,"#4dbbd5"],[tsneIII,"#00a087"]];
  sets.forEach((s,i)=>{
    pairs(s[0]).forEach(p=>{
      add(g,"circle",{cx:xs(p[0]),cy:ys(p[1]),r:1.6,fill:s[1]},"tsne-point-cluster-"+(i+1));
    });
  });
  [tsneEllipseI,tsneEllipseII,tsneEllipseIII].forEach((e,i)=>{
    let d="";
    for(let k=0;k<=96;k++){
      const t=k/96*2*Math.PI,c=Math.cos(t),s=Math.sin(t);
      const dx=e[2]*c, dy=e[3]*c+e[4]*s;
      d+=(k?"L":"M")+xs(e[0]+dx).toFixed(1)+" "+ys(e[1]+dy).toFixed(1);
    }
    add(g,"path",{d:d+"Z",fill:"none",stroke:"#333","stroke-width":.7,"stroke-dasharray":"1.4 1.2"},"tsne-ellipse-cluster-"+(i+1));
  });
  tsneLegend.forEach((l,i)=>{
    const y=494.3+i*8.7;
    add(g,"circle",{cx:988,cy:y,r:1.4,fill:sets[i][1]},"tsne-legend-dot");
    txt(g,993,y+1.6,l,4.5,"tsne-legend-label");
  });
})();

// ---------- PANEL G ----------
(function(){
  const g=group("panel-g-survival");
  const xs=v=>43.3+v*19.82, ys=v=>869.3-v*187.6;
  add(g,"line",{x1:31,x2:31,y1:672.7,y2:879,stroke:"#333","stroke-width":1},"y-axis-line");
  add(g,"line",{x1:31,x2:302.7,y1:879,y2:879,stroke:"#333","stroke-width":1},"x-axis-line");
  kmMonths.forEach(m=>{
    add(g,"line",{x1:xs(m),x2:xs(m),y1:879,y2:881,stroke:"#333","stroke-width":.7},"x-axis-tick");
    txt(g,xs(m),886,String(m),6.2,"x-axis-tick-label",{"text-anchor":"middle"});
  });
  kmYTicks.forEach(t=>{
    const y=ys(parseFloat(t));
    add(g,"line",{x1:29,x2:31,y1:y,y2:y,stroke:"#333","stroke-width":.7},"y-axis-tick");
    txt(g,28,y+2.1,t,6.2,"y-axis-tick-label",{"text-anchor":"end"});
  });
  const series=[[kmTimesB,kmSurvB,kmCensorB,"#4dbbd5","b"],[kmTimesA,kmSurvA,kmCensorA,"#e64b35","a"],[kmTimesC,kmSurvC,kmCensorC,"#00a087","c"]];
  series.forEach(s=>{
    let d="M"+xs(s[0][0])+" "+ys(s[1][0]);
    const fine=[];
    for(let i=1;i<s[0].length;i++){
      const t0=s[0][i-1],t1=s[0][i],v0=s[1][i-1],v1=s[1][i];
      const n=Math.max(1,Math.round((t1-t0)/.1));
      for(let k=1;k<=n;k++){
        const t=t0+(t1-t0)*k/n,v=v0+(v1-v0)*k/n;
        d+="H"+xs(t).toFixed(1)+"V"+ys(v).toFixed(1);
        fine.push([t,v]);
      }
    }
    add(g,"path",{d:d,fill:"none",stroke:s[3],"stroke-width":1.6},"survival-curve-"+s[4]);
    s[2].forEach(t=>{
      let v=1;
      fine.forEach(f=>{if(f[0]<=t)v=f[1];});
      add(g,"line",{x1:xs(t),x2:xs(t),y1:ys(v)-1.5,y2:ys(v)+1.5,stroke:s[3],"stroke-width":.5},"censor-tick-"+s[4]);
    });
  });
  add(g,"line",{x1:xs(0),x2:xs(kmMedians[2]),y1:ys(.5),y2:ys(.5),stroke:"#444","stroke-width":1,"stroke-dasharray":"1.6 1.6"},"median-line-horizontal");
  kmMedians.forEach(m=>{
    add(g,"line",{x1:xs(m),x2:xs(m),y1:ys(.5),y2:ys(0),stroke:"#444","stroke-width":1,"stroke-dasharray":"1.6 1.6"},"median-line-vertical");
  });
  // legend
  [["A","#e64b35",709],["B","#4dbbd5",717.7],["C","#00a087",726.3]].forEach(l=>{
    add(g,"line",{x1:240.7,x2:248.3,y1:l[2],y2:l[2],stroke:l[1],"stroke-width":1.4},"survival-legend-line");
    add(g,"line",{x1:244.5,x2:244.5,y1:l[2]-1.4,y2:l[2]+1.4,stroke:l[1],"stroke-width":.6},"survival-legend-tick");
    txt(g,251,l[2]+1.7,l[0],4.8,"survival-legend-label");
  });
  // risk table
  add(g,"line",{x1:31,x2:31,y1:911.7,y2:977.3,stroke:"#333","stroke-width":1},"risk-table-y-axis");
  add(g,"line",{x1:31,x2:302.7,y1:977.3,y2:977.3,stroke:"#333","stroke-width":1},"risk-table-x-axis");
  kmMonths.forEach(m=>{
    add(g,"line",{x1:xs(m),x2:xs(m),y1:977.3,y2:979.3,stroke:"#333","stroke-width":.7},"risk-table-x-tick");
    txt(g,xs(m),984.5,String(m),6.2,"risk-table-x-label",{"text-anchor":"middle"});
  });
  [["A",riskA,924,"#e64b35"],["B",riskB,944.3,"#4dbbd5"],["C",riskC,965,"#00a087"]].forEach(r=>{
    txt(g,28,r[2]+2.2,r[0],6.2,"risk-table-row-label",{"text-anchor":"end",style:"fill:"+r[3]});
    r[1].forEach((n,i)=>{
      txt(g,xs(kmMonths[i]),r[2]+2.2,String(n),6.2,"risk-count",{"text-anchor":"middle"});
    });
  });
})();

// ---------- PANEL H ----------
(function(){
  const g=group("panel-h-heatmap");
  const L=397.3,R=686.7,T=688.3,B=993.3;
  const clusterEdges=[L];
  heatmapSubtypeSizes.forEach(s=>clusterEdges.push(clusterEdges[clusterEdges.length-1]+s));
  const stops=[[0,[240,138,92]],[.25,[247,196,172]],[.5,[238,234,234]],[.75,[180,211,232]],[1,[74,144,194]]];
  function col(d){
    const v=d/9;
    for(let i=1;i<stops.length;i++){
      if(v<=stops[i][0]){
        const a=stops[i-1],b=stops[i],f=(v-a[0])/(b[0]-a[0]);
        return "rgb("+a[1].map((c,j)=>Math.round(c+(b[1][j]-c)*f)).join(",")+")";
      }
    }
    return "rgb(74,144,194)";
  }
  function cellCol(d){return col(4.5+(d-4.5)*.62);}
  add(g,"rect",{x:L,y:T,width:R-L,height:B-T,fill:"#eeeaea"},"heatmap-background");
  const rowH=(B-T)/heatDigits.length;
  heatDigits.forEach((row,r)=>{
    const parts=row.split(" ");
    parts.forEach((part,c)=>{
      const w=(clusterEdges[c+1]-clusterEdges[c])/part.length;
      for(let i=0;i<part.length;i++){
        add(g,"rect",{x:(clusterEdges[c]+i*w).toFixed(2),y:(T+r*rowH).toFixed(2),width:(w+.3).toFixed(2),height:(rowH+.3).toFixed(2),fill:cellCol(+part[i])},"heat-cell");
      }
    });
  });
  add(g,"rect",{x:L,y:T,width:R-L,height:B-T,fill:"none",stroke:"#444","stroke-width":.9},"heatmap-frame");
  [clusterEdges[1],clusterEdges[2]].forEach(x=>{
    add(g,"line",{x1:x,x2:x,y1:T,y2:B,stroke:"#333","stroke-width":1.3,"stroke-dasharray":"3 2"},"subtype-divider");
  });
  // annotations
  const projCol={GSE15459:"#d63f98",GSE62254:"#7fae37",GSE84437:"#8a78b8",TCGA:"#56ac8c"};
  const subCol=["#e8604c","#5cb8d6","#1aa187"];
  [heatmapProjectA,heatmapProjectB,heatmapProjectC].forEach((sizes,c)=>{
    const tot=sizes.reduce((a,b)=>a+b,0),w=clusterEdges[c+1]-clusterEdges[c];
    let acc=0;
    sizes.forEach((n,i)=>{
      add(g,"rect",{x:clusterEdges[c]+acc/tot*w,y:672.3,width:n/tot*w+.2,height:7,fill:projCol[heatmapProjects[i]]},"project-bar-"+heatmapProjects[i].toLowerCase());
      acc+=n;
    });
    add(g,"rect",{x:clusterEdges[c],y:680,width:w+.2,height:6.7,fill:subCol[c]},"subtype-bar-"+heatmapSubtypes[c].toLowerCase());
  });
  // row labels
  pathways.forEach((p,i)=>{
    txt(g,688,691+i*6.1+2,p,6,"pathway-label");
  });
  // row dendrogram
  const rowTree=[15,[13.5,[11,[9,[4,0,0],[7,[4,0,0],[3,0,0]]],[8,[5,0,[3,0,0]],[6,[4,0,0],0]]],[10,[8,[4,0,0],[6,[3,0,0],0]],[7,[4,0,0],[4,0,0]]]],[14,[9,[8,[5,[3,0,0],[3,0,0]],[6,[4,0,0],0]],[6,[4,0,0],[4,0,0]]],[12,[7,[5,0,0],[6,[5,0,0],[5,0,0]]],[10,[6,[5,0,0],[5,0,0]],[9,[8,[5,0,0],[6,[4,0,0],[4,0,0]]],[5,0,0]]]]]];
  let leaf=0;
  const dg=add(g,"g",{},"row-dendrogram");
  function walk(n){
    if(n===0){const y=691+leaf*6.1;leaf++;return {y:y,h:0};}
    const a=walk(n[1]),b=walk(n[2]),hx=396.5-n[0];
    add(dg,"path",{d:"M"+(396.5-a.h)+" "+a.y+"H"+hx+"V"+b.y+"H"+(396.5-b.h),fill:"none",stroke:"#777","stroke-width":.6},"row-dendrogram-branch");
    return {y:(a.y+b.y)/2,h:n[0]};
  }
  walk(rowTree);
  // enrichment legend
  const ncols=13;
  for(let i=0;i<ncols;i++){
    add(g,"rect",{x:352,y:829+i*30.3/ncols,width:6,height:30.3/ncols+.2,fill:col(9-i*9/(ncols-1))},"enrichment-colorbar-step");
  }
  [["2",830],["1",837],["0",844],["−1",850.7],["−2",857.7]].forEach(l=>{
    txt(g,359.5,l[1]+1.5,l[0],4.6,"enrichment-tick-label");
  });
  // project legend
  ["GSE15459","GSE62254","GSE84437","TCGA"].forEach((n,i)=>{
    const y=818.5+i*5.7;
    add(g,"rect",{x:777.3,y:y,width:5.3,height:5.7,fill:projCol[n]},"project-legend-swatch");
    txt(g,784,y+4.3,n,4.5,"project-legend-label");
  });
  heatmapSubtypes.forEach((n,i)=>{
    const y=853.3+i*5.7;
    add(g,"rect",{x:777.3,y:y,width:5.3,height:5.7,fill:subCol[i]},"subtype-legend-swatch");
    txt(g,784,y+4.3,n,4.5,"subtype-legend-label");
  });
})();
</script>
</body>
</html>
